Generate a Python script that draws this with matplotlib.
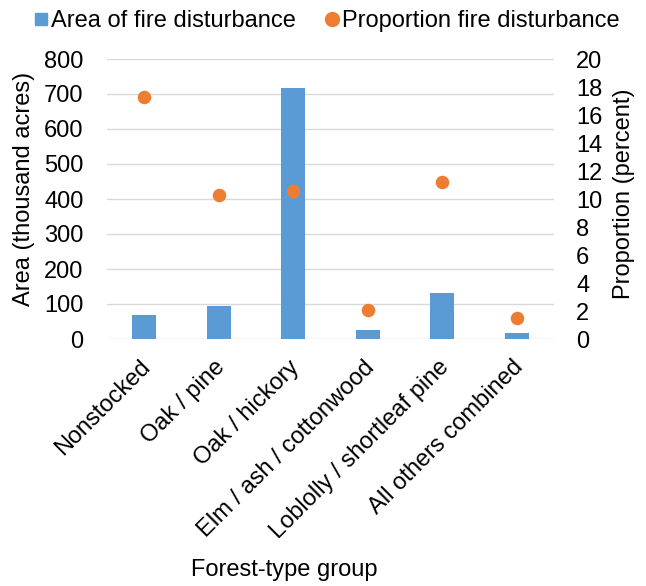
import matplotlib
matplotlib.use('Agg')
import matplotlib.pyplot as plt
import matplotlib.transforms as mtransforms
from matplotlib.lines import Line2D
import numpy as np

plt.rcParams['font.family'] = ['Liberation Sans', 'DejaVu Sans']
plt.rcParams['font.size'] = 17

# forest-type groups and fire disturbance values
groups = ['Nonstocked', 'Oak / pine', 'Oak / hickory', 'Elm / ash / cottonwood',
          'Loblolly / shortleaf pine', 'All others combined']
area_k_acres = [70, 93, 717, 25, 132, 18]
proportion_pct = [17.3, 10.3, 10.6, 2.1, 11.2, 1.5]

BLUE = '#5B9BD5'
ORANGE = '#ED7D31'
GRID = '#D9D9D9'

fig = plt.figure(figsize=(6.46, 5.86), dpi=100)
ax = fig.add_axes([107 / 646, 1 - 339 / 586, 447 / 646, 280 / 586])
ax2 = ax.twinx()

x = np.arange(len(groups))
ax.bar(x, area_k_acres, width=0.32, color=BLUE, zorder=2)
ax2.scatter(x, proportion_pct, s=95, color=ORANGE, zorder=3, linewidths=0)

ax.set_xlim(-0.5, len(groups) - 0.5)
ax.set_ylim(0, 800)
ax.set_yticks(np.arange(0, 801, 100))
ax2.set_ylim(0, 20)
ax2.set_yticks(np.arange(0, 21, 2))

ax.grid(axis='y', color=GRID, linewidth=1.0, zorder=0)
ax.set_axisbelow(True)
for a in (ax, ax2):
    for s in a.spines.values():
        s.set_visible(False)
ax.tick_params(axis='both', length=0)
ax.tick_params(axis='y', pad=17)
ax2.tick_params(axis='y', length=0, pad=16)

# rotated category labels, nudged so each ends just right of its bar
ax.set_xticks(x)
ax.set_xticklabels(groups, rotation=45, ha='right', va='center',
                   rotation_mode='anchor')
ax.tick_params(axis='x', pad=18)
shift = mtransforms.ScaledTranslation(0.03, 0, fig.dpi_scale_trans)
for lbl in ax.get_xticklabels():
    lbl.set_transform(lbl.get_transform() + shift)

ax.set_ylabel('Area (thousand acres)')
ax.yaxis.set_label_coords(-0.161, 0.536)
ax2.set_ylabel('Proportion (percent)')
ax2.yaxis.set_label_coords(1.132, 0.518)

fig.text(284 / 646, 1 - 570 / 586, 'Forest-type group', ha='center', va='center')

handles = [
    Line2D([], [], marker='s', linestyle='none', color=BLUE, markersize=9),
    Line2D([], [], marker='o', linestyle='none', color=ORANGE, markersize=10),
]
fig.legend(handles, ['Area of fire disturbance', 'Proportion fire disturbance'],
           loc='center', bbox_to_anchor=(0.506, 1 - 21 / 586), ncol=2,
           frameon=False, handlelength=0.6, handletextpad=0.15,
           columnspacing=1.2, borderaxespad=0, borderpad=0)

fig.savefig('out.png', dpi=100)
